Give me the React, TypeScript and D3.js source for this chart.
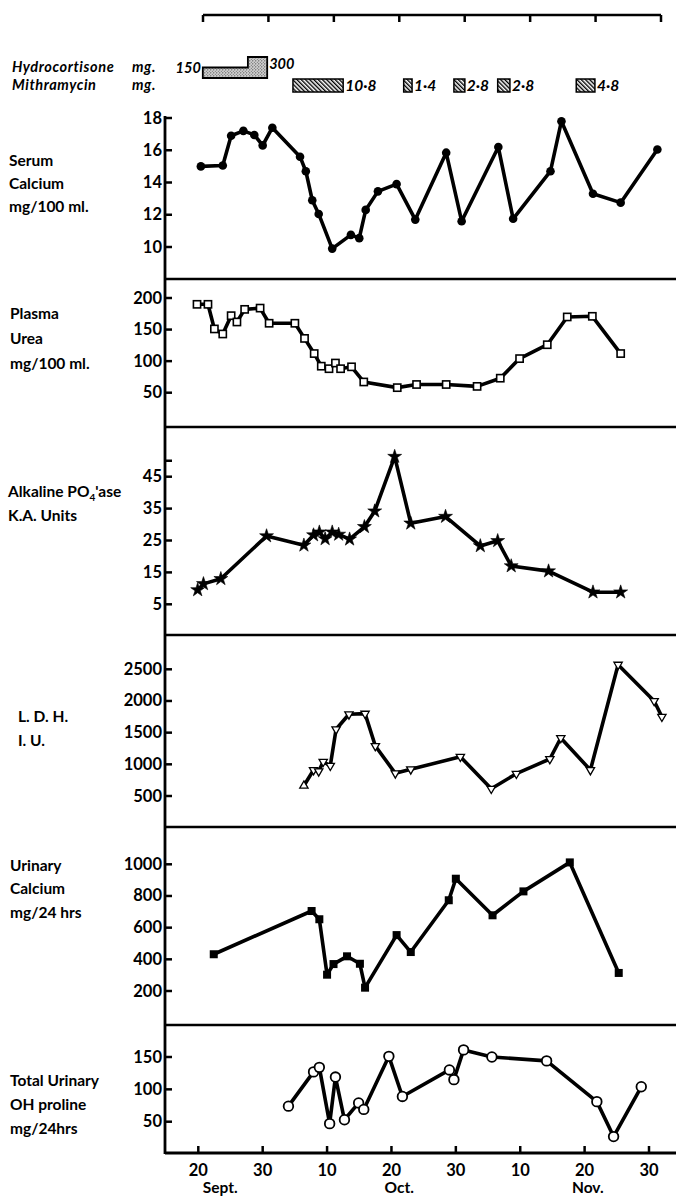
import React from "react";
import * as d3 from "d3";

const W = 676;
const H = 1197;
const AXIS_X = 165;
const RIGHT = 676;
const FONT = "Lato, 'DejaVu Sans', sans-serif";

// days counted from 1 Sept, each month drawn as 30 days (ticks are evenly spaced)
const xTickDays = [20, 30, 40, 50, 60, 70, 80, 90];
const xTickLabels = ["20", "30", "10", "20", "30", "10", "20", "30"];
const monthLabels = ["Sept.", "Oct.", "Nov."];
const monthDays = [23.4, 51.2, 80.5];

const hcStart = [20.7, 27.7];
const hcEnd = [27.7, 30.7];
const hcDose = [150, 300];

const mitStart = [34.7, 51.9, 59.7, 66.5, 78.7];
const mitEnd = [42.5, 53.2, 61.4, 68.4, 81.6];
const mitLabels = ["10·8", "1·4", "2·8", "2·8", "4·8"];

const caDays = [20.4, 23.8, 25.1, 27, 28.7, 30, 31.5, 35.8, 36.7, 37.7, 38.7, 40.8, 43.7, 45, 46, 47.9, 50.8, 53.7, 58.5, 60.9, 66.6, 68.9, 74.7, 76.4, 81.3, 85.6, 91.3];
const caValues = [15.0, 15.05, 16.9, 17.2, 16.95, 16.3, 17.4, 15.6, 14.7, 12.9, 12.05, 9.9, 10.75, 10.55, 12.3, 13.45, 13.9, 11.7, 15.85, 11.6, 16.2, 11.75, 14.7, 17.8, 13.3, 12.75, 16.05];
const caTicks = [10, 12, 14, 16, 18];

const ureaDays = [19.8, 21.5, 22.5, 23.8, 25.1, 26, 27.2, 29.6, 31, 35, 36.5, 38, 39.1, 40.3, 41.3, 42.1, 43.8, 45.7, 50.9, 53.9, 58.5, 63.3, 66.9, 69.9, 74.2, 77.3, 81.2, 85.6];
const ureaValues = [190, 190, 151, 143, 172, 162, 182, 184, 160, 160, 136, 112, 92, 88, 97, 88, 91, 67, 58, 63, 63, 60, 73, 104, 126, 170, 171, 112];
const ureaTicks = [50, 100, 150, 200];

const alkDays = [19.9, 20.8, 23.5, 30.6, 36.4, 37.9, 38.8, 39.7, 40.8, 41.8, 43.5, 45.8, 47.4, 50.5, 53, 58.4, 63.8, 66.5, 68.6, 74.4, 81.3, 85.6];
const alkValues = [9.5, 11.4, 13.0, 26.4, 23.5, 26.7, 27.6, 25.5, 27.6, 26.9, 25.4, 29.3, 34.2, 51.3, 30.4, 32.5, 23.3, 24.9, 17.0, 15.4, 8.8, 8.8];
const alkTicks = [5, 15, 25, 35, 45, 50];

const ldhDays = [36.4, 37.9, 38.7, 39.4, 40.5, 41.4, 43.4, 45.9, 47.5, 50.6, 53, 60.7, 65.5, 69.4, 74.6, 76.3, 80.9, 85.2, 90.8, 92];
const ldhValues = [662, 910, 890, 1041, 978, 1553, 1790, 1800, 1289, 858, 921, 1120, 615, 852, 1084, 1416, 910, 2573, 2000, 1752];
const ldhTicks = [500, 1000, 1500, 2000, 2500];

const ucaDays = [22.4, 37.6, 38.8, 40, 41, 43.1, 45.1, 45.9, 50.8, 53, 58.9, 60, 65.7, 70.5, 77.7, 85.3];
const ucaValues = [432, 705, 653, 303, 370, 419, 372, 221, 553, 446, 773, 909, 678, 829, 1012, 314];
const ucaTicks = [200, 400, 600, 800, 1000];

const ohpDays = [34, 37.9, 38.8, 40.4, 41.3, 42.7, 44.9, 45.7, 49.6, 51.7, 59, 59.7, 61.2, 65.6, 74.1, 81.9, 84.5, 88.8];
const ohpValues = [74, 127, 134, 47, 119, 53, 79, 69, 151, 89, 130, 115, 161, 150, 144, 81, 27, 104];
const ohpTicks = [50, 100, 150];

const x = d3.scaleLinear().domain([20, 90]).range([198.3, 649]);
const xTop = d3.scaleLinear().domain([20, 90]).range([203, 661]);
const hcHeight = d3.scaleLinear().domain([0, 300]).range([0, 21]);

const panels = [
  { key: "ca", labels: ["Serum", "Calcium", "mg/100 ml."], labelX: 9, labelY: [166, 189, 212],
    days: caDays, values: caValues, ticks: caTicks, y: d3.scaleLinear().domain([10, 18]).range([247, 118]), marker: "dot" },
  { key: "urea", labels: ["Plasma", "Urea", "mg/100 ml."], labelX: 10, labelY: [319, 344, 369],
    days: ureaDays, values: ureaValues, ticks: ureaTicks, y: d3.scaleLinear().domain([50, 200]).range([392.7, 298]), marker: "openSquare" },
  { key: "alk", labels: ["Alkaline PO4'ase", "K.A. Units"], labelX: 8, labelY: [497, 521],
    days: alkDays, values: alkValues, ticks: alkTicks, y: d3.scaleLinear().domain([5, 45]).range([604.3, 476.7]), marker: "star" },
  { key: "ldh", labels: ["L. D. H.", "I. U."], labelX: 18, labelY: [722, 746],
    days: ldhDays, values: ldhValues, ticks: ldhTicks, y: d3.scaleLinear().domain([500, 2500]).range([796, 669.3]), marker: "triangle" },
  { key: "uca", labels: ["Urinary", "Calcium", "mg/24 hrs"], labelX: 10, labelY: [871, 894, 918],
    days: ucaDays, values: ucaValues, ticks: ucaTicks, y: d3.scaleLinear().domain([200, 1000]).range([991, 864.3]), marker: "square" },
  { key: "ohp", labels: ["Total Urinary", "OH proline", "mg/24hrs"], labelX: 10, labelY: [1086, 1110, 1134],
    days: ohpDays, values: ohpValues, ticks: ohpTicks, y: d3.scaleLinear().domain([50, 150]).range([1121.7, 1057]), marker: "circle" },
];

const separators = [279, 427, 635, 827, 1025];

const starPath = d3.symbol().type(d3.symbolStar).size(60)();
const triPath = d3.symbol().type(d3.symbolTriangle).size(30)();

function Marker({ type, cx, cy, i }) {
  if (type === "dot") return <circle cx={cx} cy={cy} r={4.3} fill="#000" />;
  if (type === "openSquare")
    return <rect x={cx - 3.6} y={cy - 3.6} width={7.2} height={7.2} fill="#fff" stroke="#000" strokeWidth={1.6} />;
  if (type === "star") return <path d={starPath} transform={`translate(${cx},${cy})`} fill="#000" stroke="#000" strokeWidth={0.6} />;
  if (type === "triangle")
    return <path d={triPath} transform={`translate(${cx},${cy}) rotate(${i === 0 ? 0 : 180})`} fill="#fff" stroke="#000" strokeWidth={1.3} />;
  if (type === "square") return <rect x={cx - 4} y={cy - 4} width={8} height={8} fill="#000" />;
  return <circle cx={cx} cy={cy} r={4.8} fill="#fff" stroke="#000" strokeWidth={1.8} />;
}

function Panel({ p }) {
  const pts = p.days.map((d, i) => [x(d), p.y(p.values[i])]);
  const line = d3.line();
  return (
    <g>
      {p.labels.map((t, i) => (
        <text key={i} x={p.labelX} y={p.labelY[i]} fontSize={15.5}>
          {t === "Alkaline PO4'ase" ? (
            <>Alkaline  PO<tspan dy={4} fontSize={10}>4</tspan><tspan dy={-4}>'ase</tspan></>
          ) : t}
        </text>
      ))}
      {p.ticks.map((t) => (
        <g key={t}>
          <line x1={AXIS_X} x2={AXIS_X + 7} y1={p.y(t)} y2={p.y(t)} stroke="#000" strokeWidth={2.5} />
          {!(p.key === "alk" && t === 50) && (
            <text x={AXIS_X - 3} y={p.y(t) + 5.5} textAnchor="end" fontSize={16.5}>{t}</text>
          )}
        </g>
      ))}
      <path d={line(pts)} fill="none" stroke="#000" strokeWidth={3.6} strokeLinejoin="round" strokeLinecap="round" />
      {pts.map(([cx, cy], i) => <Marker key={i} type={p.marker} cx={cx} cy={cy} i={i} />)}
    </g>
  );
}

export default function App() {
  const hcBottom = 78;
  return (
    <svg width={W} height={H} style={{ position: "absolute", left: 0, top: 0, background: "#fff" }}
      fontFamily={FONT} fontWeight={700}>
      <defs>
        <pattern id="stipple" patternUnits="userSpaceOnUse" width={3} height={3}>
          <rect width={3} height={3} fill="#cfcfcf" />
          <circle cx={0.8} cy={0.8} r={0.6} fill="#333" />
          <circle cx={2.3} cy={2.2} r={0.5} fill="#555" />
        </pattern>
        <pattern id="hatch" patternUnits="userSpaceOnUse" width={3} height={3} patternTransform="rotate(-45)">
          <rect width={3} height={3} fill="#fff" />
          <line x1={0.7} y1={0} x2={0.7} y2={3} stroke="#000" strokeWidth={1.4} />
        </pattern>
      </defs>

      {/* top time bar */}
      <line x1={xTop(20)} x2={xTop(90)} y1={15} y2={15} stroke="#000" strokeWidth={2.5} />
      {xTickDays.map((d) => (
        <line key={d} x1={xTop(d)} x2={xTop(d)} y1={15} y2={22} stroke="#000" strokeWidth={2.5} />
      ))}

      {/* treatments */}
      <g fontStyle="italic" fontSize={14.5} letterSpacing={0.6}>
        <text x={12} y={72}>Hydrocortisone</text>
        <text x={132} y={72}>mg.</text>
        <text x={12} y={90}>Mithramycin</text>
        <text x={132} y={90}>mg.</text>
        <text x={x(hcStart[0]) - 2} y={73} textAnchor="end" letterSpacing={0}>{hcDose[0]}</text>
        <text x={x(hcEnd[1]) + 2} y={69} letterSpacing={0}>{hcDose[1]}</text>
      </g>
      {hcStart.map((s, i) => (
        <rect key={i} x={x(s)} y={hcBottom - hcHeight(hcDose[i])} width={x(hcEnd[i]) - x(s)} height={hcHeight(hcDose[i])}
          fill="url(#stipple)" />
      ))}
      <path
        d={`M${x(hcStart[0])},${hcBottom} V${hcBottom - hcHeight(hcDose[0])} H${x(hcStart[1])} V${hcBottom - hcHeight(hcDose[1])} H${x(hcEnd[1])} V${hcBottom} Z`}
        fill="none" stroke="#000" strokeWidth={1.8} />
      {mitStart.map((s, i) => (
        <g key={i}>
          <rect x={x(s)} y={79} width={x(mitEnd[i]) - x(s)} height={13} fill="url(#hatch)" stroke="#000" strokeWidth={1.5} />
          <text x={x(mitEnd[i]) + 2} y={91} fontSize={15.5} fontStyle="italic">{mitLabels[i]}</text>
        </g>
      ))}

      {/* frame */}
      <line x1={AXIS_X} x2={AXIS_X} y1={116} y2={1154} stroke="#000" strokeWidth={2.8} />
      {separators.map((s) => (
        <line key={s} x1={AXIS_X} x2={RIGHT} y1={s} y2={s} stroke="#000" strokeWidth={2.5} />
      ))}
      <line x1={AXIS_X} x2={RIGHT} y1={1153} y2={1153} stroke="#000" strokeWidth={2.8} />

      {panels.map((p) => <Panel key={p.key} p={p} />)}

      {/* x axis */}
      {xTickDays.map((d, i) => (
        <g key={d}>
          <line x1={x(d)} x2={x(d)} y1={1153} y2={1146} stroke="#000" strokeWidth={2.5} />
          <text x={x(d)} y={1176} textAnchor="middle" fontSize={16.5}>{xTickLabels[i]}</text>
        </g>
      ))}
      {monthLabels.map((m, i) => (
        <text key={m} x={x(monthDays[i])} y={1193} textAnchor="middle" fontSize={15.5}>{m}</text>
      ))}
    </svg>
  );
}
